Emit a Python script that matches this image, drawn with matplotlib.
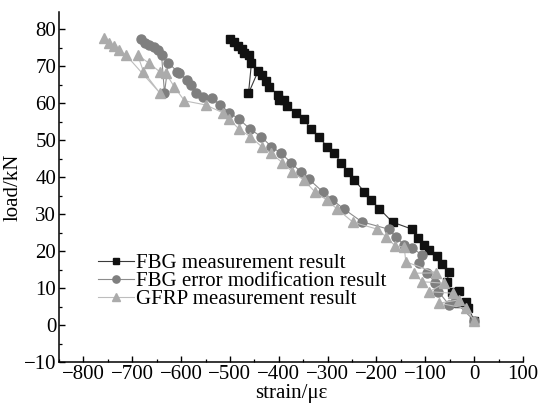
import matplotlib
matplotlib.use("Agg")
import matplotlib.pyplot as plt
from matplotlib.ticker import MultipleLocator

plt.rcParams["font.family"] = ["Liberation Serif", "DejaVu Serif"]
plt.rcParams["mathtext.fontset"] = "stix"

# FBG measurement result (load in kN, strain in microstrain)
fbg_load = [1.2, 4.7, 6.3, 5.9, 9.3, 9.0, 11.7, 14.4, 16.6, 18.6, 20.2, 21.7,
            23.6, 25.9, 27.8, 31.4, 33.8, 36.0, 39.2, 41.4, 43.9, 46.4, 48.2,
            50.7, 53.0, 55.6, 57.4, 59.3, 60.8, 60.8, 62.2, 64.4, 66.0, 67.6,
            68.7, 62.6, 70.7, 73.0, 73.4, 74.5, 75.4, 76.4, 77.2]
fbg_strain = [0, -12, -17, -33, -31, -46, -56, -51, -66, -77, -93, -102,
              -114, -127, -167, -194, -211, -225, -245, -258, -272, -287, -301,
              -317, -334, -349, -364, -384, -390, -399, -402, -419, -426, -435,
              -442, -462, -456, -460, -471, -475, -484, -491, -500]

# FBG error modification result
mod_load = [1.2, 6.3, 5.4, 9.0, 11.4, 14.1, 16.8, 18.9, 20.8, 21.6, 23.7,
            25.9, 27.9, 31.3, 33.8, 36.0, 39.4, 41.4, 43.9, 46.4, 48.2, 50.9,
            52.9, 55.6, 57.4, 59.5, 61.3, 61.7, 62.6, 64.9, 66.2, 68.0, 68.5,
            70.9, 62.8, 73.0, 74.3, 75.1, 75.7, 76.3, 77.2]
mod_strain = [0, -39, -51, -73, -80, -96, -113, -106, -127, -143, -159,
              -175, -230, -266, -290, -310, -338, -355, -375, -395, -415, -436,
              -458, -481, -501, -520, -537, -556, -569, -580, -587, -604, -608,
              -626, -634, -640, -648, -656, -665, -674, -682]

# GFRP measurement result
gfrp_load = [1.2, 4.5, 5.9, 6.8, 8.6, 9.0, 11.3, 11.7, 14.0, 14.1, 17.1,
             21.0, 21.4, 23.8, 25.9, 27.8, 31.4, 33.8, 36.0, 39.2, 41.4, 43.9,
             46.4, 48.2, 50.9, 52.9, 55.6, 57.4, 59.5, 60.6, 64.4, 68.0, 68.5,
             70.7, 73.0, 68.5, 62.8, 73.0, 74.3, 75.4, 76.3, 77.5]
gfrp_strain = [0, -17, -72, -31, -44, -92, -61, -106, -123, -78, -140,
               -143, -162, -180, -198, -248, -281, -302, -326, -349, -372, -393,
               -415, -435, -458, -481, -501, -515, -550, -593, -614, -631, -644,
               -665, -689, -677, -644, -713, -728, -738, -747, -757]

labels = ["FBG measurement result",
          "FBG error modification result",
          "GFRP measurement result"]

fig = plt.figure(figsize=(5.41, 4.03), dpi=100)
ax = fig.add_axes([0.109, 0.1017, 0.8577, 0.8685])

ax.plot(fbg_strain, fbg_load, color="#3a3a3a", lw=0.8, marker="s", ms=5.8,
        mfc="#111111", mec="#111111", label=labels[0])
ax.plot(mod_strain, mod_load, color="#8c8c8c", lw=0.8, marker="o", ms=6.5,
        mfc="#7f7f7f", mec="#7f7f7f", label=labels[1])
ax.plot(gfrp_strain, gfrp_load, color="#bdbdbd", lw=0.8, marker="^", ms=7,
        mfc="#ababab", mec="#ababab", label=labels[2])

ax.set_xlim(-850, 100)
ax.set_ylim(-10, 84.6)
ax.xaxis.set_major_locator(MultipleLocator(100))
ax.xaxis.set_minor_locator(MultipleLocator(50))
ax.yaxis.set_major_locator(MultipleLocator(10))
ax.yaxis.set_minor_locator(MultipleLocator(5))

for side in ("top", "right"):
    ax.spines[side].set_visible(False)
for side in ("left", "bottom"):
    ax.spines[side].set_linewidth(1.1)

ax.tick_params(which="major", direction="in", length=4.5, width=1.0,
               labelsize=15, pad=2)
ax.tick_params(which="minor", direction="in", length=2.5, width=0.9)

ax.set_xlabel("strain/με", fontsize=15, labelpad=0)
ax.set_ylabel("load/kN", fontsize=15, labelpad=1)

ax.legend(loc="upper left", bbox_to_anchor=(0.085, 0.31), frameon=False,
          fontsize=15, borderpad=0, borderaxespad=0, labelspacing=-0.08,
          handlelength=1.7, handletextpad=0.1, markerscale=0.8)

fig.savefig("out.png", dpi=100)
